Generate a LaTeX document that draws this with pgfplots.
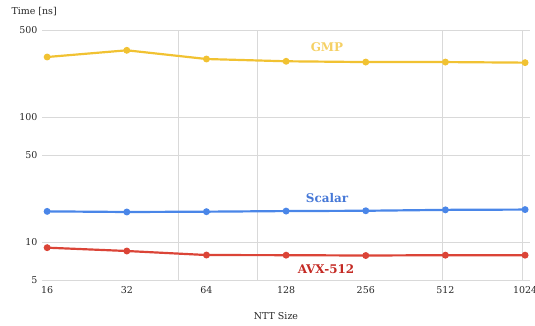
\documentclass[border=0pt]{standalone}
\usepackage{pgfplots}
\pgfplotsset{compat=1.18}
\usepackage{fontspec}
\setmainfont{DejaVu Serif}
\definecolor{gmp}{RGB}{241,194,50}
\definecolor{gmplab}{RGB}{245,208,100}
\definecolor{scal}{RGB}{74,134,232}
\definecolor{scallab}{RGB}{70,120,215}
\definecolor{avx}{RGB}{219,68,55}
\definecolor{avxlab}{RGB}{196,42,36}
\definecolor{gridc}{RGB}{217,217,217}
\begin{document}
\begin{tikzpicture}
\useasboundingbox (0,0) rectangle (535bp,326bp);
\begin{axis}[
  at={(42bp,46bp)}, anchor=south west,
  scale only axis, width=488bp, height=250bp,
  xmode=log, log basis x=2, ymode=log,
  xmin=15.3, xmax=1069, ymin=5, ymax=500,
  axis line style={draw=none},
  tick style={draw=none},
  major tick length=0pt,
  xtick={16,32,64,128,256,512,1024},
  xticklabels={16,32,64,128,256,512,1024},
  ytick={5,10,50,100,500},
  yticklabels={5,10,50,100,500},
  ymajorgrids, grid style={gridc, line width=0.8pt},
  extra x ticks={50,100,500,1000},
  extra x tick labels={},
  extra x tick style={xmajorgrids=true, grid style={gridc, line width=0.8pt}},
  tick label style={font=\fontsize{9.5}{11}\selectfont, text=black!85},
  xticklabel style={yshift=-3bp},
  yticklabel style={xshift=-1bp},
  clip=false,
]
\addplot[gmp, line width=2.2pt, mark=*, mark size=2.3pt] coordinates {
 (16,304) (32,344) (64,293) (128,281) (256,277) (512,277) (1024,274)};
\addplot[scal, line width=2.2pt, mark=*, mark size=2.3pt] coordinates {
 (16,17.7) (32,17.5) (64,17.6) (128,17.8) (256,17.9) (512,18.2) (1024,18.3)};
\addplot[avx, line width=2.2pt, mark=*, mark size=2.3pt] coordinates {
 (16,9.07) (32,8.53) (64,7.92) (128,7.9) (256,7.85) (512,7.9) (1024,7.9)};
\end{axis}
\node[anchor=west, font=\fontsize{9.5}{11}\selectfont, text=black!85] at (8bp,314bp) {Time [ns]};
\node[font=\fontsize{9.5}{11}\selectfont, text=black!85] at (276bp,10bp) {NTT Size};
\node[font=\bfseries\fontsize{12}{14}\selectfont, text=gmplab] at (327bp,279bp) {GMP};
\node[font=\bfseries\fontsize{12}{14}\selectfont, text=scallab] at (327bp,128bp) {Scalar};
\node[font=\bfseries\fontsize{12}{14}\selectfont, text=avxlab] at (326bp,57bp) {AVX-512};
\end{tikzpicture}
\end{document}
